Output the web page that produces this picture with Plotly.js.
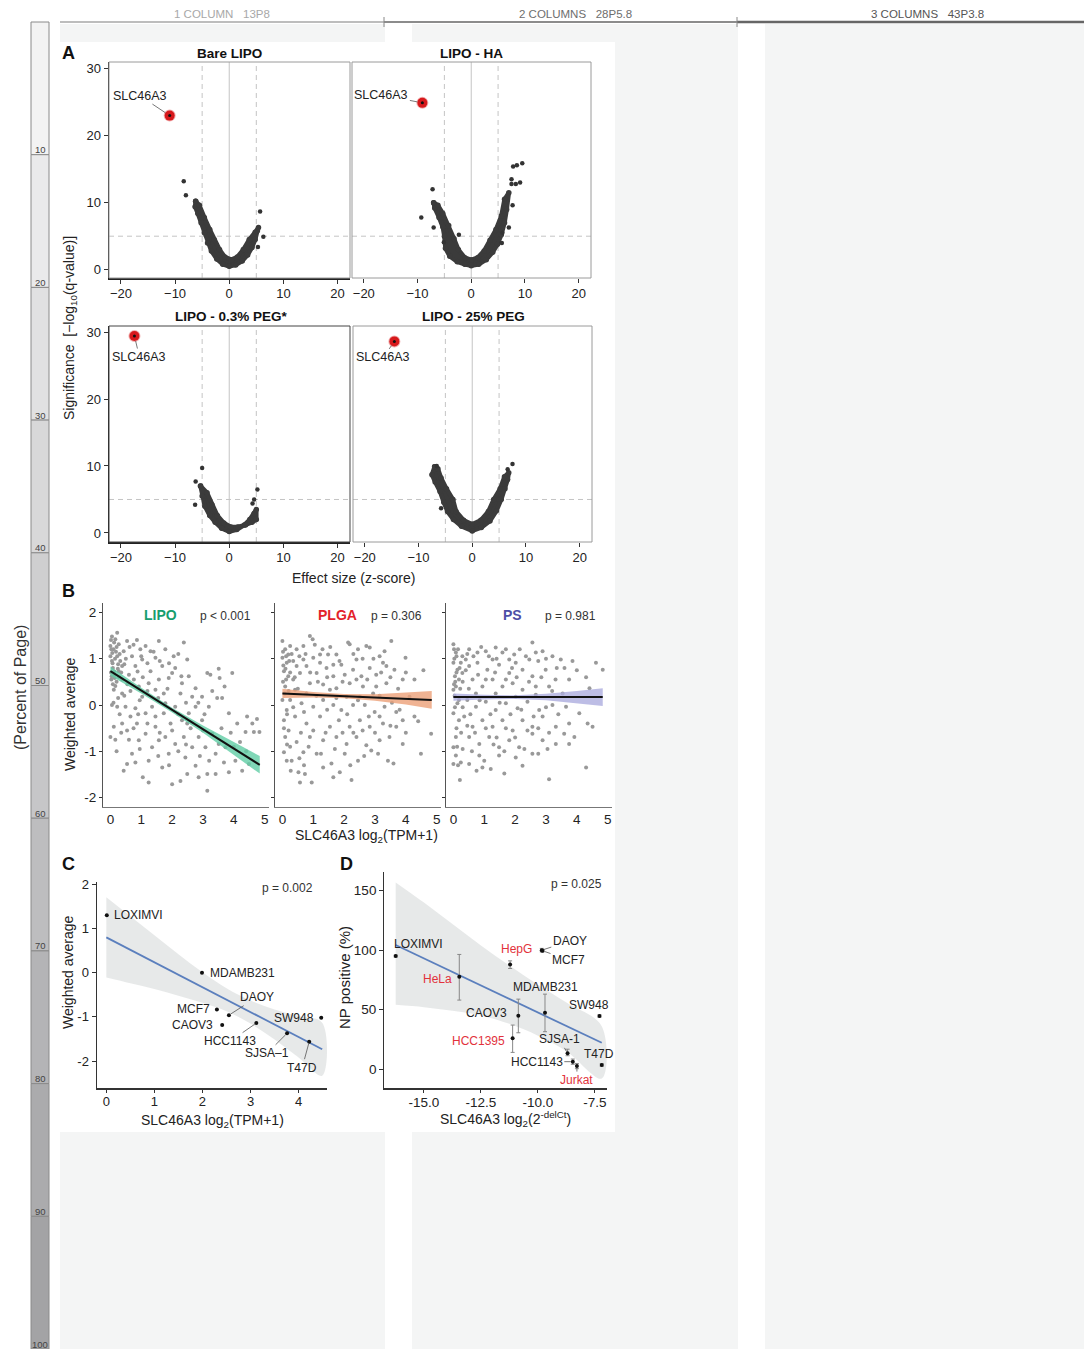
<!DOCTYPE html>
<html><head><meta charset="utf-8">
<script src="https://cdn.plot.ly/plotly-3.0.1.min.js"></script>
<style>html,body{margin:0;padding:0;background:#fff}#chart{width:1084px;height:1349px}</style>
</head><body><div id="chart"></div>
<script>
// ---------------- DATA ----------------
// Panel A volcano plots: dense cloud outlines, outliers, top hit
const A_TITLES = ['Bare LIPO', 'LIPO - HA', 'LIPO - 0.3% PEG*', 'LIPO - 25% PEG'];
const HIT_GENE = 'SLC46A3';
const EFFECT_CUT = 5, SIG_CUT = 5;
const A_XT = [-20, -10, 0, 10, 20];
const A_XL = ['\u221220', '\u221210', '0', '10', '20'];
const A_YT = [0, 10, 20, 30];
const A_YL = ['0', '10', '20', '30'];

const a1CloudX = [-6.2,-6.3,-5.8,-5.2,-4.6,-4.0,-3.3,-2.3,-1.2,0,1.2,2.4,3.4,4.2,4.8,5.2,5.4, 4.8,3.7,2.6,1.5,0.4,-0.8,-1.8,-2.8,-3.6,-4.6,-5.5];
const a1CloudY = [10.2,9.4,8.4,7.0,5.5,4.0,2.8,1.6,0.8,0.5,0.7,1.3,2.2,3.3,4.5,5.8,6.3, 5.6,4.5,3.0,1.9,1.5,1.9,3.0,4.5,6.0,7.8,9.6];
const a1OutX = [-8.4,-8.0,5.7,6.3,5.3];
const a1OutY = [13.2,11.1,8.7,4.9,3.4];
const a1Hit = [-11.0, 23.0];

const a2CloudX = [-7.0,-6.8,-6.0,-5.3,-5.0,-4.8,-4.0,-2.6,-1.2,0,1.4,2.8,4.0,4.9,5.6,6.2,6.6,7.0, 6.2,5.6,4.6,3.5,2.4,1.2,0,-1.2,-2.4,-3.2,-4.2,-5.3,-6.2];
const a2CloudY = [10.0,9.2,7.8,6.4,5.0,3.2,2.0,1.2,0.8,0.6,0.8,1.5,2.6,3.8,5.2,7.0,9.0,11.5, 10.5,8.0,6.0,4.4,2.8,1.8,1.45,1.8,3.0,4.6,6.6,8.4,9.6];
const a2OutX = [7.8,8.5,9.5,7.5,8.3,9.1,7.5,7.7,7.0,5.8,5.7,-7.2,-9.3,-7.0,-2.3,-5.1];
const a2OutY = [15.4,15.6,15.9,13.5,12.8,13.0,12.8,9.6,6.3,5.5,4.0,12.0,7.8,6.3,5.2,4.1];
const a2Hit = [-9.1, 24.9];

const a3CloudX = [-5.3,-5.0,-4.5,-3.6,-2.6,-1.4,0,1.4,2.8,3.8,4.6,5.0,5.0, 4.2,3.0,1.6,0.3,-1.0,-2.2,-3.2,-4.1];
const a3CloudY = [7.0,5.5,4.0,2.6,1.6,0.7,0.2,0.5,1.2,2.0,2.9,3.5,2.0, 1.6,1.2,0.9,0.9,1.5,2.6,4.2,6.0];
const a3OutX = [-5.0,-6.2,-6.3,5.2,4.6,4.3];
const a3OutY = [9.7,7.7,4.2,6.5,5.0,4.4];
const a3Hit = [-17.5, 29.4];

const a4CloudX = [-7.0,-7.5,-6.9,-6.0,-5.3,-4.6,-3.5,-2.0,0,1.7,3.3,4.5,5.4,6.1,6.6,6.8, 6.0,5.2,4.0,3.0,1.6,0,-1.6,-3.0,-3.6,-4.8,-5.8,-6.4];
const a4CloudY = [9.9,8.7,7.6,6.2,4.6,3.2,2.0,1.0,0.3,0.8,1.8,3.3,5.0,6.6,8.0,9.0, 8.4,6.6,5.0,3.2,1.9,1.3,1.9,3.2,5.0,6.6,8.2,9.6];
const a4OutX = [7.5,6.6,-6.6,-5.8];
const a4OutY = [10.3,9.5,10.0,3.7];
const a4Hit = [-14.5, 28.6];

// Panel B: scatter of weighted average vs SLC46A3 expression
const B_NAMES = ['LIPO', 'PLGA', 'PS'];
const B_PVALS = ['p < 0.001', 'p = 0.306', 'p = 0.981'];
const B_XT = [0,1,2,3,4,5];
const B_YT = [2,1,0,-1,-2];
const B_YL = ['2','1','0','-1','-2'];

const lipoX = [0.05,0.16,0,0.1,0.27,0.22,0.05,0.32,0.08,0.27,
0.03,0.16,0.38,0.54,0.86,1.14,1.57,1.78,2.05,2.38,
2.1,2.49,0.7,0.81,1.03,1.3,1.46,1.68,1.89,1.24,
0.6,0.92,1.46,1.73,2.0,2.32,2.54,2.76,3.14,3.24,
3.51,3.54,3.95,0.05,0.22,0.49,0.81,0.38,0.11,0,
0.16,0.54,0.86,1.14,1.35,1.46,1.73,1.95,2.1,2.32,
2.54,2.76,2.97,3.19,3.46,3.62,3.84,4.11,4.43,4.6,
4.83,4.38,4.65,0.7,0.54,0.81,1.05,1.24,1.68,1.89,
2.0,2.27,2.49,2.76,3.14,3.14,3.41,3.68,3.84,4.05,
4.27,4.49,1.35,1.57,1.78,2.1,2.38,2.65,2.86,3.08,
3.3,3.51,3.73,0.92,1.14,0.65,1.03,1.78,2.65,2.97,
0.76,0.38,0.11,0.22,0,0.14,0.43,0.38,0.97,1.3,
1.57,2.27,2.49,1.46,1.24,0.43,2.43,2.86,3.41,0.02,
0.12,0.2,0.06,0.15,0.25,0.02,0.12,0.2,0.3,0.08];
const lipoY = [1.48,1.42,1.27,1.2,1.31,1.05,0.95,0.95,0.8,0.73,
0.55,0.41,0.55,1.38,1.4,1.27,1.38,1.2,1.05,1.35,
0.8,0.98,1.05,0.84,0.98,0.73,1.02,0.84,0.58,0.47,
0.65,0.4,0.33,0.25,0.69,0.47,0.62,0.36,0.69,0.65,
0.78,0.58,0.69,0,-0.04,-0.04,-0.07,-0.4,-0.47,-0.69,
-0.75,-0.55,-0.4,-0.18,-0.04,-0.25,-0.18,-0.4,-0.04,-0.33,
-0.18,-0.04,-0.33,-0.04,0.15,0.15,-0.18,-0.4,-0.25,-0.4,
-0.58,-0.58,-0.58,-1.05,-1.27,-1.24,-1.56,-1.67,-1.35,-1.05,
-1.71,-1.64,-1.49,-1.31,-1.49,-1.85,-1.49,-1.24,-1.45,-1.2,
-1.42,-1.27,-0.91,-0.76,-0.69,-0.84,-0.69,-0.91,-0.69,-0.91,
-0.62,-0.84,-0.91,-0.76,-0.62,-0.25,0.18,0.04,0.18,0.18,
0.55,0.25,0.33,1.56,1.05,0.58,1.16,0.84,1.2,1.16,
0.55,0.25,-0.4,-0.47,-1.2,-1.42,-1.13,-1.56,-1.05,1.4,
1.35,1.25,1.12,1.0,0.88,0.7,0.65,0.5,1.1,0.45];
const lipoMoreX = [0.03,0.18,0.07,0.24,0.12,0.04,0.28,0.35,0.45,0.5,
0.62,0.75,1.0,1.2,1.4,1.6,1.9,2.2,2.3,1.05,
0.88,0.55,0.65,0.95,1.2,1.55,1.85,2.2,2.45,2.85,
3.05,3.3,3.7,3.9,4.2,4.4,4.75,0.3,0.6,0.2,
0.95,1.2,1.55,1.9,2.2,2.6,2.9,3.2,3.6,4.0,
0.45,0.9,1.6,2.0,2.45,3.0,0.25,0.1,0.35,0.75];
const lipoMoreY = [1.2,1.15,0.9,0.78,0.72,0.62,0.6,0.7,0.88,1.0,
1.25,1.3,1.05,0.9,1.15,0.95,0.9,1.1,0.62,0.6,
0.72,0.45,0.3,0.1,0.3,0.15,0.35,-0.2,0.05,0.05,
-0.2,0.3,0.4,-0.6,-0.8,-1.0,-0.3,-0.2,-0.75,-1.0,
-0.95,-0.4,-1.1,-1.3,-1.0,-0.5,-1.1,-1.2,-0.5,-0.9,
0.2,-0.2,-0.6,-0.55,-0.85,-0.55,0.15,0.05,-0.6,-0.5];

const plgaX = [0,0.09,0,0.14,0.05,0.19,0.09,0,0.14,0.05,
0.09,0.05,0.14,0.3,0.27,0.52,0.57,0.73,0.95,0.89,
0.98,0.68,0.46,0.35,0.68,1.0,1.22,1.48,1.75,2.13,
2.18,2.45,2.72,2.83,3.31,3.53,3.99,4.57,4.28,0.57,
0.78,1.11,1.43,1.65,1.91,2.02,2.29,2.56,2.83,3.04,
3.26,3.63,3.9,0.35,0.89,1.32,1.75,2.18,2.61,3.04,
3.37,0.25,0.62,1.0,1.32,1.65,1.91,2.29,2.67,2.99,
3.31,3.69,3.9,0.41,0.78,1.22,1.54,1.83,2.18,2.51,
2.83,3.26,3.69,0.89,1.32,1.75,2.08,2.4,2.72,3.15,
3.47,3.9,4.82,4.49,0.46,0.68,1.11,1.59,2.02,2.45,
2.88,3.42,3.6,1.86,2.24,1.65,1.32,4.28,4.12,0.25,
0.19,0.46,1.22,1.65,2.4,3.15,3.37,2.94,2.51,2.08,
1.54,0.78,0.41,0.03,0.12,0.02,0.08,0.2,0.05,0.15];
const plgaY = [1.38,1.2,1.02,0.91,0.73,0.62,0.4,0.11,-0.11,-0.33,
-0.69,-1.02,-1.2,-1.2,-1.42,-1.45,-1.67,-1.49,-1.67,1.49,
1.42,1.27,1.2,0.95,0.98,1.02,1.09,1.09,1.09,1.35,
1.31,1.2,1.27,1.24,1.16,1.38,1.02,0.75,0.55,0.69,
0.84,0.69,0.8,0.62,0.87,0.65,0.76,0.62,0.8,0.65,
0.91,0.76,0.55,0.55,0.47,0.44,0.36,0.47,0.4,0.4,
0.47,0.11,0.04,-0.04,0.11,0,-0.11,0,0,-0.15,
-0.04,-0.15,-0.33,-0.25,-0.4,-0.25,-0.47,-0.33,-0.47,-0.33,
-0.47,-0.4,-0.47,-0.69,-0.76,-0.69,-0.84,-0.69,-0.87,-0.76,
-0.69,-0.84,-0.62,-1.05,-0.8,-1.02,-1.05,-1.26,-1.05,-1.2,
-0.98,-1.2,-1.26,-1.45,-1.62,-1.56,-1.35,-0.25,0.18,1.27,
1.09,0.84,0.91,0.87,0.98,1.05,0.84,0.25,0.18,0.18,
0.33,0.25,0.33,0.85,1.05,0.5,0.25,0.3,-0.5,-0.85];
const plgaMoreX = [0.02,0.1,0.22,0.3,0.12,0.25,0.4,0.55,0.75,1.05,
1.3,1.55,1.85,2.3,2.6,2.95,3.2,3.5,3.75,4.0,
0.5,0.9,1.15,1.45,1.95,2.4,2.75,3.15,3.55,0.15,
0.35,0.7,1.1,1.45,1.75,2.1,2.45,2.8,3.15,3.8,
0.2,0.6,1.0,1.4,1.95,2.3,2.6,3.0,3.5,4.0,
0.25,0.55,0.85,1.25,1.7,2.2,2.65,3.1,0.7,4.4];
const plgaMoreY = [1.15,0.78,0.95,1.1,0.55,0.7,0.6,1.05,1.1,1.3,
1.2,1.25,0.95,1.1,1.0,1.0,0.7,0.6,0.35,0.7,
0.35,0.7,0.5,0.6,0.5,0.55,0.55,0.2,0.05,-0.2,
-0.05,-0.15,0.2,-0.1,0.15,-0.2,0.1,-0.25,-0.25,-0.1,
-0.55,-0.6,-0.55,-0.6,-0.6,-0.6,-0.55,-0.6,-0.45,-0.6,
-0.9,-1.15,-0.9,-1.05,-0.95,-1.3,-1.1,-1.05,-1.3,-0.35];

const psX = [0,0.08,0,0.13,0.05,0.18,0,0.13,0,0.18,
0.08,0,0.08,0,0.24,0.21,0.51,0.75,0.94,1.21,
1.65,2.24,3.1,4.3,0.29,0.51,0.78,1.05,1.37,1.59,
1.97,2.56,2.67,2.89,3.21,3.48,3.86,4.62,4.84,0.51,
0.78,1.1,1.48,1.81,2.02,2.24,2.56,2.99,3.31,3.75,
4.41,0.29,0.62,0.94,1.27,1.59,1.92,2.24,2.67,3.1,
3.54,0.45,0.73,1.05,1.37,1.7,2.08,2.4,2.78,3.21,
3.65,4.08,4.35,4.51,0.35,0.62,0.94,1.27,1.59,1.92,
2.24,2.56,2.89,3.32,3.75,0.51,0.84,1.16,1.48,1.81,
2.13,2.56,2.89,3.32,3.59,3.75,0.84,1.48,2.02,2.56,
0.18,0.08,0.24,0.4,1.27,1.81,2.46,0.73,1.37,2.02,
2.67,3.92,0.03,0.1,0.02,0.1,0.04,0.15,0.05,0.12];
const psY = [1.31,1.13,0.91,0.76,0.62,0.55,0.33,0.04,-0.18,-0.33,
-0.69,-0.91,-1.09,-1.27,-1.24,-1.62,-1.27,-1.42,-1.35,-1.38,
-1.48,-1.31,-1.6,-1.35,1.05,1.2,1.13,1.16,1.24,1.13,
1.09,1.35,1.13,1.16,1.05,0.98,0.95,0.91,0.76,0.84,
0.91,0.76,0.87,0.69,0.91,0.76,0.62,0.76,0.55,0.55,
0.36,0.69,0.55,0.4,0.55,0.4,0.47,0.33,0.4,0.4,
0.25,0.11,-0.04,0.07,-0.11,0.04,-0.07,0.07,-0.11,0,
-0.04,-0.18,-0.4,-0.47,-0.25,-0.47,-0.33,-0.47,-0.33,-0.55,
-0.33,-0.47,-0.25,-0.47,-0.4,-0.69,-0.84,-0.69,-0.91,-0.76,
-0.91,-0.62,-0.76,-0.84,-0.62,-0.84,-1.09,-1.09,-1.13,-1.05,
0.11,0.4,0.91,0.98,0.98,0.98,0.98,0.25,0.25,0.18,
0.22,-0.69,1.0,0.7,0.45,-0.5,0.2,1.2,-0.05,-0.9];
const psMoreX = [0.02,0.1,0.2,0.06,0.22,0.3,0.4,0.45,0.65,0.9,
1.15,1.4,1.7,1.9,2.15,2.35,2.75,3.0,3.35,3.6,
4.0,4.3,0.5,0.8,1.05,1.35,1.7,2.05,2.45,2.85,
3.2,0.3,0.55,0.85,1.2,1.5,1.85,2.2,2.6,3.0,
3.4,0.25,0.45,0.7,1.05,1.4,1.7,2.0,2.4,2.75,
3.1,0.3,0.6,1.0,1.3,1.65,2.3,2.75,3.05,0.15];
const psMoreY = [1.2,1.05,0.8,0.5,0.35,0.5,0.75,1.1,1.05,1.25,
1.05,1.0,1.2,0.8,1.2,1.05,0.95,1.0,0.8,0.8,
0.75,0.6,0.35,0.65,0.55,0.7,0.55,0.6,0.5,0.6,
0.3,-0.05,-0.2,0.1,-0.2,0.05,-0.2,-0.1,-0.25,-0.05,
-0.2,-0.6,-0.45,-0.6,-0.5,-0.7,-0.5,-0.7,-0.55,-0.5,
-0.6,-0.95,-1.0,-1.2,-0.85,-1.0,-0.95,-1.05,-0.95,-1.3];

const bandX = [0,1,2,3,4,4.84];
const lipoFit = [0.73,0.31,-0.11,-0.52,-0.94,-1.29];
const lipoUp  = [0.83,0.37,-0.06,-0.44,-0.80,-1.10];
const lipoLo  = [0.63,0.25,-0.16,-0.60,-1.08,-1.48];
const plgaFit = [0.25,0.22,0.19,0.16,0.14,0.11];
const plgaUp  = [0.35,0.28,0.235,0.23,0.27,0.30];
const plgaLo  = [0.15,0.16,0.145,0.09,0.01,-0.08];
const psFit = [0.17,0.17,0.17,0.17,0.17,0.17];
const psUp  = [0.25,0.22,0.21,0.24,0.30,0.36];
const psLo  = [0.09,0.12,0.13,0.10,0.04,-0.02];

// Panel C
const cLines = ['LOXIMVI','MDAMB231','MCF7','DAOY','CAOV3','HCC1143','SJSA\u20131','T47D','SW948'];
const cX = [0.01,1.99,2.3,2.55,2.41,3.12,3.76,4.22,4.47];
const cY = [1.30,0.0,-0.83,-0.96,-1.18,-1.14,-1.37,-1.56,-1.02];
const cBandX = [0,0.5,1,1.5,2,2.5,3,3.5,4,4.49];
const cFit = [0.80,0.52,0.24,-0.05,-0.33,-0.61,-0.89,-1.17,-1.45,-1.73];
const cUp  = [1.71,1.28,0.85,0.42,0.01,-0.35,-0.63,-0.83,-0.98,-1.13];
const cLo  = [-0.11,-0.24,-0.37,-0.52,-0.68,-0.87,-1.15,-1.51,-1.92,-2.33];
const C_XT = [0,1,2,3,4];
const C_YT = [2,1,0,-1,-2];
const C_YL = ['2','1','0','-1','-2'];
const C_P = 'p = 0.002';

// Panel D
const dLines = ['LOXIMVI','HeLa','HepG','DAOY','MCF7','MDAMB231','CAOV3','HCC1395','SJSA-1','HCC1143','Jurkat','SW948','T47D'];
const dX = [-16.24,-13.45,-11.22,-9.83,-9.80,-9.69,-10.86,-11.11,-8.70,-8.47,-8.29,-7.30,-7.20];
const dY = [95.0,77.6,88.0,100.0,99.5,47.3,44.8,25.8,13.2,6.2,2.5,44.6,3.4];
const dErrPlus  = [0.8,18.8,3.0,1.5,1.0,15.7,14.0,11.2,3.5,2.2,2.2,1.0,1.0];
const dErrMinus = [0.8,19.6,3.4,1.5,1.0,15.9,14.3,11.8,2.0,2.2,2.2,1.0,1.0];
const dRedLines = ['HeLa','HepG','HCC1395','Jurkat'];
const dBandX = [-16.24,-15,-13.75,-12.5,-11.25,-10,-8.75,-7.2];
const dFit = [104.3,93.0,81.7,70.3,58.9,47.6,36.2,22.1];
const dUp  = [157,140,122,104,87,71,56,36];
const dLo  = [54,52,49,45,38,28,15,-8];
const D_XT = [-15,-12.5,-10,-7.5];
const D_XL = ['-15.0','-12.5','-10.0','-7.5'];
const D_YT = [0,50,100,150];
const D_YL = ['0','50','100','150'];
const D_P = 'p = 0.025';

// Page furniture
const HEADER_LABELS = ['1 COLUMN   13P8', '2 COLUMNS   28P5.8', '3 COLUMNS   43P3.8'];
const RULER_LABELS = ['10','20','30','40','50','60','70','80','90','100'];

// ---------------- LAYOUT HELPERS ----------------
const W = 1084, H = 1349;
const FONT = '"Liberation Sans", Arial, Helvetica, sans-serif';
const NARROW = '"Liberation Sans Narrow", "Liberation Sans", Arial, sans-serif';
const dxp = (a, b) => [a / W, b / W];
const dyp = (top, bottom) => [1 - bottom / H, 1 - top / H];
const PX = x => x / W;
const PY = y => 1 - y / H;

function axisBase(extra) {
  return Object.assign({
    showgrid: false, zeroline: false, ticks: 'outside', ticklen: 3, tickwidth: 1,
    tickcolor: '#333', tickfont: {family: FONT, size: 13, color: '#222'},
    showline: true, linecolor: '#333', linewidth: 1, fixedrange: true, tickmode: 'array'
  }, extra);
}

const traces = [];
const shapes = [];
const annotations = [];

function ann(text, x, y, opts) {
  annotations.push(Object.assign({
    text: text, x: PX(x), y: PY(y), xref: 'paper', yref: 'paper', showarrow: false,
    xanchor: 'center', yanchor: 'middle', font: {family: FONT, size: 13, color: '#222'}
  }, opts || {}));
}

// ---------------- PAGE BACKGROUND ----------------
const GRAY_BG = '#f4f5f5';
[[60, 385], [412, 738], [765, 1084]].forEach(([a, b]) => {
  shapes.push({type: 'rect', xref: 'paper', yref: 'paper', x0: PX(a), x1: PX(b), y0: PY(1349), y1: PY(24),
    fillcolor: GRAY_BG, line: {width: 0}, layer: 'below'});
});
shapes.push({type: 'rect', xref: 'paper', yref: 'paper', x0: PX(60), x1: PX(615), y0: PY(1132), y1: PY(42),
  fillcolor: '#ffffff', line: {width: 0}, layer: 'below'});
[[60, 384, '#bdbdbd', 2], [384, 737, '#8c8c8c', 2], [737, 1084, '#666', 2.5]].forEach(([a, b, c, w]) => {
  shapes.push({type: 'line', xref: 'paper', yref: 'paper', x0: PX(a), x1: PX(b), y0: PY(22), y1: PY(22),
    line: {color: c, width: w}, layer: 'below'});
});
[384, 737].forEach(x => shapes.push({type: 'line', xref: 'paper', yref: 'paper', x0: PX(x), x1: PX(x),
  y0: PY(27), y1: PY(17), line: {color: '#888', width: 1}, layer: 'below'}));
ann(HEADER_LABELS[0], 222, 14, {font: {family: NARROW, size: 11.5, color: '#a8a8a8'}});
ann(HEADER_LABELS[1], 575, 14, {font: {family: NARROW, size: 11.5, color: '#6e6e6e'}});
ann(HEADER_LABELS[2], 927, 14, {font: {family: NARROW, size: 11.5, color: '#555'}});
const RULER_FILLS = ['#f3f3f3','#eaeaeb','#e1e1e2','#d8d8d9','#cfcfd0','#c6c6c8','#bdbdbf','#b4b4b6','#ababad','#a3a3a5'];
for (let k = 0; k < 10; k++) {
  const t = 22 + 132.7 * k, b = 22 + 132.7 * (k + 1);
  shapes.push({type: 'rect', xref: 'paper', yref: 'paper', x0: PX(31), x1: PX(49), y0: PY(b), y1: PY(t),
    fillcolor: RULER_FILLS[k], line: {color: '#8a8a8a', width: 1}, layer: 'below'});
  ann(RULER_LABELS[k], 40, b - 5, {font: {family: FONT, size: 9.5, color: '#444'}});
}
ann('(Percent of Page)', 20, 688, {textangle: -90, font: {family: FONT, size: 16, color: '#333'}});

// ---------------- PANEL A ----------------
const A_XR = [-22.2, 22.3];
const A_AX = [
  {xd: [109, 350], yd: [62, 278], yr: [-1.24, 31.0], labels: true, frame: '#9a9a9a'},
  {xd: [352, 591], yd: [62, 278], yr: [-1.24, 31.0], labels: false, frame: '#9a9a9a'},
  {xd: [109, 350], yd: [326, 542], yr: [-1.35, 30.9], labels: true, frame: '#444'},
  {xd: [353, 592], yd: [326, 542], yr: [-1.35, 30.9], labels: false, frame: '#9a9a9a'}
];
const A_DATA = [
  [a1CloudX, a1CloudY, a1OutX, a1OutY, a1Hit],
  [a2CloudX, a2CloudY, a2OutX, a2OutY, a2Hit],
  [a3CloudX, a3CloudY, a3OutX, a3OutY, a3Hit],
  [a4CloudX, a4CloudY, a4OutX, a4OutY, a4Hit]
];
const A_LABEL_OFFSETS = [[-30, -20], [-41, -8], [5, 21], [-11, 16]];
const layout = {
  width: W, height: H, margin: {l: 0, r: 0, t: 0, b: 0},
  paper_bgcolor: '#ffffff', plot_bgcolor: 'rgba(0,0,0,0)', showlegend: false,
  font: {family: FONT, color: '#222'}
};
A_AX.forEach((p, i) => {
  const n = i + 1, xs = n === 1 ? '' : String(n);
  const xa = 'x' + xs, ya = 'y' + xs;
  layout['xaxis' + xs] = axisBase({domain: dxp(p.xd[0], p.xd[1]), range: A_XR, anchor: ya,
    tickvals: A_XT, ticktext: A_XL, ticklen: 4, showline: p.labels, linecolor: '#222', linewidth: 1.5,
    ticklabelstandoff: -1});
  layout['yaxis' + xs] = axisBase({domain: dyp(p.yd[0], p.yd[1]), range: p.yr, anchor: xa,
    tickvals: A_YT, ticktext: A_YL, ticklen: 4, showticklabels: p.labels, ticks: p.labels ? 'outside' : '',
    showline: p.labels, linecolor: '#222', linewidth: 1.5});
  shapes.push({type: 'rect', xref: xa + ' domain', yref: ya + ' domain', x0: 0, x1: 1, y0: 0, y1: 1,
    line: {color: p.frame, width: 1}, layer: 'above'});
  [-EFFECT_CUT, EFFECT_CUT].forEach(v => shapes.push({type: 'line', xref: xa, yref: ya + ' domain',
    x0: v, x1: v, y0: 0, y1: 1, line: {color: '#c4c4c4', width: 1, dash: '5px,4px'}, layer: 'below'}));
  shapes.push({type: 'line', xref: xa, yref: ya + ' domain', x0: 0, x1: 0, y0: 0, y1: 1,
    line: {color: '#c4c4c4', width: 1}, layer: 'below'});
  shapes.push({type: 'line', xref: xa + ' domain', yref: ya, x0: 0, x1: 1, y0: SIG_CUT, y1: SIG_CUT,
    line: {color: '#c4c4c4', width: 1, dash: '5px,4px'}, layer: 'below'});

  const [cx, cy, ox, oy, hit] = A_DATA[i];
  traces.push({type: 'scatter', mode: 'lines+markers', x: cx.concat([cx[0]]), y: cy.concat([cy[0]]),
    fill: 'toself', fillcolor: '#3b3b3b', line: {color: '#3b3b3b', width: 4.5},
    marker: {size: 5.5, color: '#3b3b3b'}, xaxis: xa, yaxis: ya, hoverinfo: 'skip'});
  traces.push({type: 'scatter', mode: 'markers', x: ox, y: oy, marker: {size: 4.5, color: '#333'},
    xaxis: xa, yaxis: ya, hoverinfo: 'skip'});
  traces.push({type: 'scatter', mode: 'markers', x: [hit[0]], y: [hit[1]],
    marker: {size: 10, color: '#d7191c', line: {color: 'rgba(215,25,28,0.35)', width: 2}},
    xaxis: xa, yaxis: ya, hoverinfo: 'skip'});
  traces.push({type: 'scatter', mode: 'markers', x: [hit[0]], y: [hit[1]],
    marker: {size: 3, color: '#111'}, xaxis: xa, yaxis: ya, hoverinfo: 'skip'});
  annotations.push({text: HIT_GENE, x: hit[0], y: hit[1], xref: xa, yref: ya, showarrow: true,
    ax: A_LABEL_OFFSETS[i][0], ay: A_LABEL_OFFSETS[i][1], arrowhead: 0, arrowwidth: 0.8, arrowcolor: '#555',
    standoff: 5, font: {family: FONT, size: 12.5, color: '#222'}});
});
ann('<b>A</b>', 68, 53, {font: {family: FONT, size: 18, color: '#111'}});
ann('<b>' + A_TITLES[0] + '</b>', 229, 53, {font: {family: FONT, size: 13.5, color: '#111'}});
ann('<b>' + A_TITLES[1] + '</b>', 471, 53, {font: {family: FONT, size: 13.5, color: '#111'}});
ann('<b>' + A_TITLES[2] + '</b>', 231, 317, {font: {family: FONT, size: 13.5, color: '#111'}});
ann('<b>' + A_TITLES[3] + '</b>', 473, 317, {font: {family: FONT, size: 13.5, color: '#111'}});
ann('Significance  [\u2212log<sub>10</sub>(q-value)]', 70, 328, {textangle: -90, font: {family: FONT, size: 14, color: '#222'}});
ann('Effect size (z-score)', 353, 578, {font: {family: FONT, size: 14, color: '#222'}});

// ---------------- PANEL B ----------------
const B_XR = [-0.24, 5.14], B_YR = [-2.2, 2.2];
const B_XD = [[103, 269], [275, 441], [446, 612]];
const B_PTS = [[lipoX.concat(lipoMoreX), lipoY.concat(lipoMoreY)],
               [plgaX.concat(plgaMoreX), plgaY.concat(plgaMoreY)],
               [psX.concat(psMoreX), psY.concat(psMoreY)]];
const B_BANDS = [[lipoFit, lipoUp, lipoLo], [plgaFit, plgaUp, plgaLo], [psFit, psUp, psLo]];
const B_COLORS = ['#179e6e', '#e3222a', '#4d4ea6'];
const B_FILLS = ['rgba(96,205,165,0.8)', 'rgba(236,160,120,0.8)', 'rgba(172,172,222,0.8)'];
const B_TITLE_X = [161, 337, 512], B_P_X = [225, 396, 570];
B_XD.forEach((xd, i) => {
  const n = 5 + i, xa = 'x' + n, ya = 'y' + n;
  layout['xaxis' + n] = axisBase({domain: dxp(xd[0], xd[1]), range: B_XR, anchor: ya, tickvals: B_XT,
    ticktext: B_XT.map(String), ticks: '', linecolor: '#777', tickfont: {family: FONT, size: 13.5, color: '#222'}});
  layout['yaxis' + n] = axisBase({domain: dyp(603, 807), range: B_YR, anchor: xa, tickvals: B_YT, ticktext: B_YL,
    showticklabels: i === 0, linecolor: '#555', tickfont: {family: FONT, size: 13.5, color: '#222'}});
  traces.push({type: 'scatter', mode: 'markers', x: B_PTS[i][0], y: B_PTS[i][1],
    marker: {size: 4, color: '#999'}, xaxis: xa, yaxis: ya, hoverinfo: 'skip'});
  const [fit, up, lo] = B_BANDS[i];
  traces.push({type: 'scatter', mode: 'lines', x: bandX.concat(bandX.slice().reverse()),
    y: up.concat(lo.slice().reverse()), fill: 'toself', fillcolor: B_FILLS[i], line: {width: 0},
    xaxis: xa, yaxis: ya, hoverinfo: 'skip'});
  traces.push({type: 'scatter', mode: 'lines', x: bandX, y: fit, line: {color: '#111', width: 2},
    xaxis: xa, yaxis: ya, hoverinfo: 'skip'});
  ann('<b>' + B_NAMES[i] + '</b>', B_TITLE_X[i], 615, {font: {family: FONT, size: 14, color: B_COLORS[i]}});
  ann(B_PVALS[i], B_P_X[i], 616, {font: {family: NARROW, size: 12, color: '#333'}});
});
ann('<b>B</b>', 68, 591, {font: {family: FONT, size: 18, color: '#111'}});
ann('Weighted average', 70, 714, {textangle: -90, font: {family: FONT, size: 14, color: '#222'}});
ann('SLC46A3 log<sub>2</sub>(TPM+1)', 366, 836, {font: {family: FONT, size: 14, color: '#222'}});

// ---------------- PANEL C ----------------
layout.xaxis8 = axisBase({domain: dxp(96.7, 327), range: [-0.2, 4.59], anchor: 'y8', tickvals: C_XT,
  ticktext: C_XT.map(String), ticklen: 3, linewidth: 1.2, ticklabelstandoff: -2});
layout.yaxis8 = axisBase({domain: dyp(881.7, 1088.3), range: [-2.615, 2.06], anchor: 'x8', tickvals: C_YT,
  ticktext: C_YL, ticklen: 4, linewidth: 1.2});
traces.push({type: 'scatter', mode: 'lines', x: cBandX.concat(cBandX.slice().reverse()),
  y: cUp.concat(cLo.slice().reverse()), fill: 'toself', fillcolor: 'rgba(215,218,218,0.6)',
  line: {width: 0, shape: 'spline'}, xaxis: 'x8', yaxis: 'y8', hoverinfo: 'skip'});
traces.push({type: 'scatter', mode: 'lines', x: cBandX, y: cFit, line: {color: '#5b7fbd', width: 1.8},
  xaxis: 'x8', yaxis: 'y8', hoverinfo: 'skip'});
traces.push({type: 'scatter', mode: 'markers', x: cX, y: cY, marker: {size: 4, color: '#111'},
  xaxis: 'x8', yaxis: 'y8', hoverinfo: 'skip'});
const C_LABEL_STYLE = {
  'LOXIMVI': {xanchor: 'left', xshift: 5},
  'MDAMB231': {xanchor: 'left', xshift: 6},
  'MCF7': {xanchor: 'right', xshift: -5},
  'DAOY': {arrow: [28, -18]},
  'CAOV3': {xanchor: 'right', xshift: -7},
  'HCC1143': {arrow: [-26, 18]},
  'SJSA\u20131': {arrow: [-20, 20]},
  'T47D': {arrow: [-7, 26]},
  'SW948': {xanchor: 'right', xshift: -5}
};
cLines.forEach((name, i) => {
  const st = C_LABEL_STYLE[name];
  const a = {text: name, x: cX[i], y: cY[i], xref: 'x8', yref: 'y8', font: {family: FONT, size: 12, color: '#222'}};
  if (st.arrow) Object.assign(a, {showarrow: true, ax: st.arrow[0], ay: st.arrow[1], arrowhead: 0,
    arrowwidth: 0.8, arrowcolor: '#555', standoff: 2});
  else Object.assign(a, {showarrow: false, xanchor: st.xanchor, xshift: st.xshift});
  annotations.push(a);
});
ann('<b>C</b>', 68, 864, {font: {family: FONT, size: 18, color: '#111'}});
ann(C_P, 287, 888, {font: {family: NARROW, size: 12, color: '#333'}});
ann('Weighted average', 68, 972, {textangle: -90, font: {family: FONT, size: 14, color: '#222'}});
ann('SLC46A3 log<sub>2</sub>(TPM+1)', 212, 1121, {font: {family: FONT, size: 14, color: '#222'}});

// ---------------- PANEL D ----------------
layout.xaxis9 = axisBase({domain: dxp(384.3, 607), range: [-16.74, -6.97], anchor: 'y9', tickvals: D_XT,
  ticktext: D_XL, ticklen: 3, linewidth: 1.2, ticklabelstandoff: -2,
  tickfont: {family: FONT, size: 13.5, color: '#222'}});
layout.yaxis9 = axisBase({domain: dyp(871.7, 1088.3), range: [-16.2, 166], anchor: 'x9', tickvals: D_YT,
  ticktext: D_YL, ticklen: 4, linewidth: 1.2, tickfont: {family: FONT, size: 13.5, color: '#222'}});
traces.push({type: 'scatter', mode: 'lines', x: dBandX.concat(dBandX.slice().reverse()),
  y: dUp.concat(dLo.slice().reverse()), fill: 'toself', fillcolor: 'rgba(215,218,218,0.6)',
  line: {width: 0, shape: 'spline'}, xaxis: 'x9', yaxis: 'y9', hoverinfo: 'skip'});
traces.push({type: 'scatter', mode: 'lines', x: dBandX, y: dFit, line: {color: '#5b7fbd', width: 1.8},
  xaxis: 'x9', yaxis: 'y9', hoverinfo: 'skip'});
traces.push({type: 'scatter', mode: 'markers', x: dX, y: dY, marker: {size: 4, color: '#111'},
  error_y: {type: 'data', symmetric: false, array: dErrPlus, arrayminus: dErrMinus, color: '#888',
    thickness: 1, width: 2}, xaxis: 'x9', yaxis: 'y9', hoverinfo: 'skip'});
const D_LABEL_STYLE = {
  'LOXIMVI': {xshift: 23, yshift: 12},
  'HeLa': {xanchor: 'right', xshift: -5, yshift: -2},
  'HepG': {xshift: 6, yshift: 15},
  'DAOY': {arrow: [28, -9]},
  'MCF7': {arrow: [26, 9]},
  'MDAMB231': {yshift: 26},
  'CAOV3': {xanchor: 'right', xshift: -9, yshift: 3},
  'HCC1395': {xanchor: 'right', xshift: -6, yshift: -3},
  'SJSA-1': {arrow: [-8, -14]},
  'HCC1143': {arrow: [-36, 0]},
  'Jurkat': {arrow: [0, 14]},
  'SW948': {xshift: -10, yshift: 11},
  'T47D': {xshift: -3, yshift: 11}
};
dLines.forEach((name, i) => {
  const st = D_LABEL_STYLE[name];
  const color = dRedLines.indexOf(name) >= 0 ? '#e2323c' : '#222';
  const a = {text: name, x: dX[i], y: dY[i], xref: 'x9', yref: 'y9', font: {family: FONT, size: 12, color: color}};
  if (st.arrow) Object.assign(a, {showarrow: true, ax: st.arrow[0], ay: st.arrow[1], arrowhead: 0,
    arrowwidth: 0.8, arrowcolor: '#555', standoff: 2});
  else Object.assign(a, {showarrow: false, xanchor: st.xanchor || 'center', xshift: st.xshift || 0,
    yshift: st.yshift || 0});
  annotations.push(a);
});
ann('<b>D</b>', 346, 864, {font: {family: FONT, size: 18, color: '#111'}});
ann(D_P, 576, 884, {font: {family: NARROW, size: 12, color: '#333'}});
ann('NP positive (%)', 345, 978, {textangle: -90, font: {family: FONT, size: 15, color: '#222'}});
ann('SLC46A3 log<sub>2</sub>(2<sup>-delCt</sup>)', 505, 1119, {font: {family: FONT, size: 14, color: '#222'}});

layout.shapes = shapes;
layout.annotations = annotations;
Plotly.newPlot('chart', traces, layout, {staticPlot: true, displayModeBar: false});
</script>
</body></html>
